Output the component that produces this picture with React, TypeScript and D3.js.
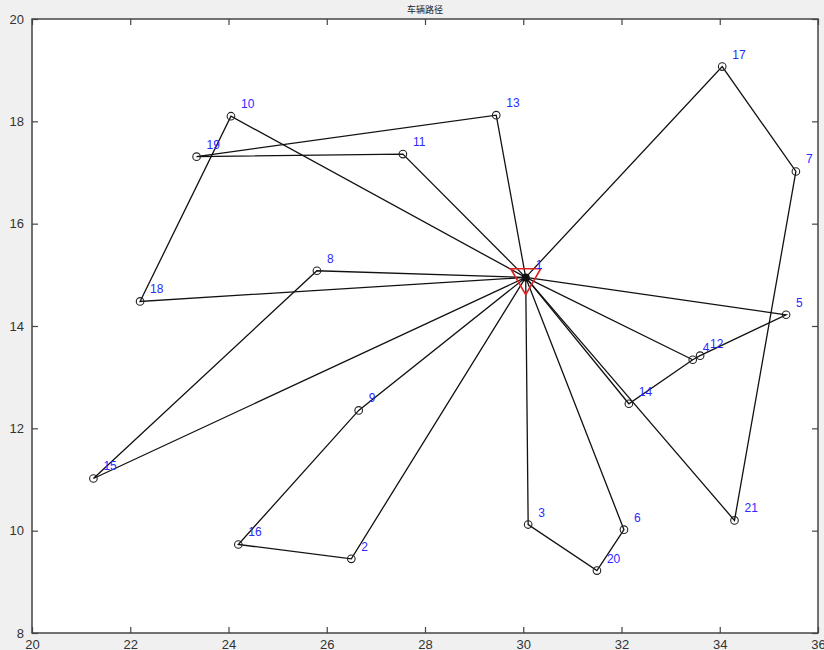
import React, { useEffect, useRef } from "react";
import * as d3 from "d3";

// node coordinates, index 0 is node 1 (depot)
const nodeIds = [1, 2, 3, 4, 5, 6, 7, 8, 9, 10, 11, 12, 13, 14, 15, 16, 17, 18, 19, 20, 21];
const nodeX = [30.05, 26.5, 30.1, 33.45, 35.35, 32.05, 35.55, 25.8, 26.65, 24.05, 27.55, 33.6, 29.45, 32.15, 21.25, 24.2, 34.05, 22.2, 23.35, 31.5, 34.3];
const nodeY = [14.95, 9.45, 10.12, 13.34, 14.22, 10.02, 17.02, 15.08, 12.35, 18.1, 17.36, 13.42, 18.12, 12.48, 11.02, 9.73, 19.07, 14.48, 17.31, 9.22, 10.2];

// vehicle routes (node numbers)
const routes = [
	[1, 13, 19, 11, 1],
	[1, 10, 18, 1],
	[1, 8, 15, 1],
	[1, 9, 16, 2, 1],
	[1, 3, 20, 6, 1],
	[1, 21, 7, 17, 1],
	[1, 14, 4, 12, 5, 1],
	[1, 4, 1],
];

const xTicks = [20, 22, 24, 26, 28, 30, 32, 34, 36];
const yTicks = [8, 10, 12, 14, 16, 18, 20];
const titleText = "车辆路径";

const App = () => {
	const svgRef = useRef(null);

	useEffect(() => {
		drawChart();
	}, []);

	const drawChart = () => {
		d3.select(svgRef.current).selectAll("*").remove();

		const width = 824;
		const height = 650;
		const margin = { top: 19, right: 6, bottom: 17, left: 32 };

		const x = d3.scaleLinear().domain([20, 36]).range([margin.left, width - margin.right]);
		const y = d3.scaleLinear().domain([8, 20]).range([height - margin.bottom, margin.top]);

		const svg = d3.select(svgRef.current);

		svg.append("rect").attr("width", width).attr("height", height).attr("fill", "#f0f0f0");
		svg
			.append("rect")
			.attr("x", x(20))
			.attr("y", y(20))
			.attr("width", x(36) - x(20))
			.attr("height", y(8) - y(20))
			.attr("fill", "#ffffff");

		// title (cut off at top in the original)
		svg
			.append("text")
			.attr("x", (x(20) + x(36)) / 2)
			.attr("y", 13)
			.attr("text-anchor", "middle")
			.attr("font-size", 9)
			.attr("font-family", "Noto Sans CJK SC")
			.attr("fill", "#222")
			.text(titleText);

		const pos = (id) => [x(nodeX[id - 1]), y(nodeY[id - 1])];

		// routes
		const line = d3.line();
		svg
			.append("g")
			.selectAll("path")
			.data(routes)
			.enter()
			.append("path")
			.attr("d", (r) => line(r.map(pos)))
			.attr("fill", "none")
			.attr("stroke", "#111")
			.attr("stroke-width", 1.3);

		// customers
		const customers = nodeIds.filter((id) => id !== 1);
		svg
			.append("g")
			.selectAll("circle")
			.data(customers)
			.enter()
			.append("circle")
			.attr("cx", (id) => pos(id)[0])
			.attr("cy", (id) => pos(id)[1])
			.attr("r", 3.8)
			.attr("fill", "none")
			.attr("stroke", "#222")
			.attr("stroke-width", 1.1);

		// depot
		const [dx, dy] = pos(1);
		svg
			.append("path")
			.attr("d", d3.symbol().type(d3.symbolTriangle).size(390)())
			.attr("transform", `translate(${dx},${dy}) rotate(180)`)
			.attr("fill", "none")
			.attr("stroke", "#e02020")
			.attr("stroke-width", 1.6);
		svg.append("circle").attr("cx", dx).attr("cy", dy).attr("r", 4).attr("fill", "#111");

		// labels
		svg
			.append("g")
			.selectAll("text")
			.data(nodeIds)
			.enter()
			.append("text")
			.attr("x", (id) => pos(id)[0] + 10)
			.attr("y", (id) => pos(id)[1] - 8)
			.attr("font-size", 12)
			.attr("font-family", "Liberation Sans, Arial, sans-serif")
			.attr("fill", "#2a2aff")
			.text((id) => id);

		// axes frame
		const axisColor = "#444";
		svg
			.append("rect")
			.attr("x", x(20))
			.attr("y", y(20))
			.attr("width", x(36) - x(20))
			.attr("height", y(8) - y(20))
			.attr("fill", "none")
			.attr("stroke", axisColor)
			.attr("stroke-width", 1.5);

		const bottom = svg
			.append("g")
			.attr("transform", `translate(0,${y(8)})`)
			.call(d3.axisBottom(x).tickValues(xTicks).tickSize(-6).tickPadding(7).tickFormat(d3.format("d")));
		const top = svg
			.append("g")
			.attr("transform", `translate(0,${y(20)})`)
			.call(d3.axisTop(x).tickValues(xTicks).tickSize(-6).tickFormat(() => ""));
		const left = svg
			.append("g")
			.attr("transform", `translate(${x(20)},0)`)
			.call(d3.axisLeft(y).tickValues(yTicks).tickSize(-6).tickPadding(8).tickFormat(d3.format("d")));
		const right = svg
			.append("g")
			.attr("transform", `translate(${x(36)},0)`)
			.call(d3.axisRight(y).tickValues(yTicks).tickSize(-6).tickFormat(() => ""));

		[bottom, top, left, right].forEach((g) => {
			g.select(".domain").remove();
			g.selectAll(".tick line").attr("stroke", axisColor).attr("stroke-width", 1.2);
			g.selectAll(".tick text")
				.attr("fill", "#333")
				.attr("font-size", 13)
				.attr("font-family", "Liberation Sans, Arial, sans-serif");
		});
	};

	return (
		<div style={{ position: "absolute", left: 0, top: 0 }}>
			<svg ref={svgRef} width={824} height={650} style={{ display: "block" }}></svg>
		</div>
	);
};

export default App;
